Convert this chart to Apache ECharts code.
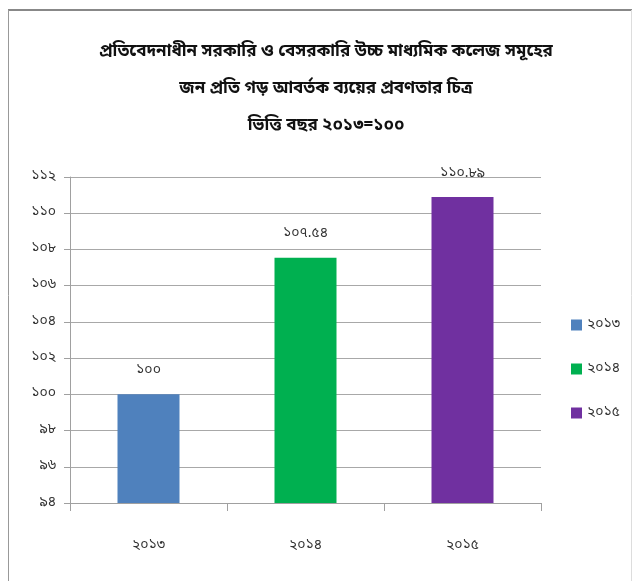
<!DOCTYPE html>
<html><head><meta charset="utf-8">
<script src="https://cdn.jsdelivr.net/npm/echarts@6/dist/echarts.min.js"></script>
<style>html,body{margin:0;padding:0;background:#fff}#c{width:632px;height:581px}</style>
</head><body><div id="c"></div>
<script>
const titleLines = ['প্রতিবেদনাধীন সরকারি ও বেসরকারি উচ্চ মাধ্যমিক কলেজ সমূহের', 'জন প্রতি গড় আবর্তক ব্যয়ের প্রবণতার চিত্র', 'ভিত্তি বছর ২০১৩=১০০'];
const categories = ['২০১৩', '২০১৪', '২০১৫'];
const values = [100, 107.54, 110.89];
const valueLabels = ['১০০', '১০৭.৫৪', '১১০.৮৯'];
const colors = ['#4f81bd', '#00b050', '#7030a0'];
const yMin = 94, yMax = 112, yStep = 2;

const bnDigits = '০১২৩৪৫৬৭৮৯';
const toBn = s => String(s).replace(/[0-9]/g, d => bnDigits[+d]);
const font = '"Noto Sans Bengali","Noto Sans","Lohit Bengali","FreeSans",sans-serif';

const chart = echarts.init(document.getElementById('c'));
chart.setOption({
  animation: false,
  textStyle: { fontFamily: font },
  title: {
    text: titleLines.join('\n'), left: 321, top: 29, textAlign: 'center',
    textStyle: { fontSize: 17, fontWeight: 'bold', color: '#111', lineHeight: 37, fontFamily: font }
  },
  graphic: [
    { type: 'line', shape: { x1: 8, y1: 10, x2: 632, y2: 10 }, style: { stroke: '#888', lineWidth: 2 } },
    { type: 'line', shape: { x1: 8.5, y1: 10, x2: 8.5, y2: 581 }, style: { stroke: '#999', lineWidth: 1 } },
    { type: 'line', shape: { x1: 631.5, y1: 10, x2: 631.5, y2: 581 }, style: { stroke: '#ddd', lineWidth: 1 } }
  ],
  legend: {
    orient: 'vertical', left: 566, top: 313, itemWidth: 11, itemHeight: 11, itemGap: 30,
    icon: 'rect', data: categories,
    textStyle: { fontSize: 14, color: '#333', fontFamily: font }
  },
  grid: { left: 70, right: 91, top: 177, bottom: 78 },
  xAxis: {
    type: 'category', data: categories,
    axisLine: { lineStyle: { color: '#a0a0a0', width: 1 } },
    axisTick: { show: true, length: 8, lineStyle: { color: '#a0a0a0' } },
    axisLabel: { margin: 36, fontSize: 14, color: '#333', fontFamily: font }
  },
  yAxis: {
    type: 'value', min: yMin, max: yMax, interval: yStep,
    axisLine: { show: true, lineStyle: { color: '#a0a0a0' } },
    axisTick: { show: true, length: 6, lineStyle: { color: '#a0a0a0' } },
    axisLabel: { margin: 14, fontSize: 14, color: '#333', fontFamily: font, formatter: v => toBn(v) },
    splitLine: { lineStyle: { color: '#a8a8a8' } }
  },
  series: categories.map((c, i) => ({
    name: c, type: 'bar', stack: 'one', barWidth: 62,
    itemStyle: { color: colors[i] },
    data: categories.map((_, j) => j === i ? values[i] : null),
    label: {
      show: true, position: 'top', distance: 16, fontSize: 14, color: '#333', fontFamily: font,
      formatter: () => valueLabels[i]
    }
  }))
});
</script></body></html>
